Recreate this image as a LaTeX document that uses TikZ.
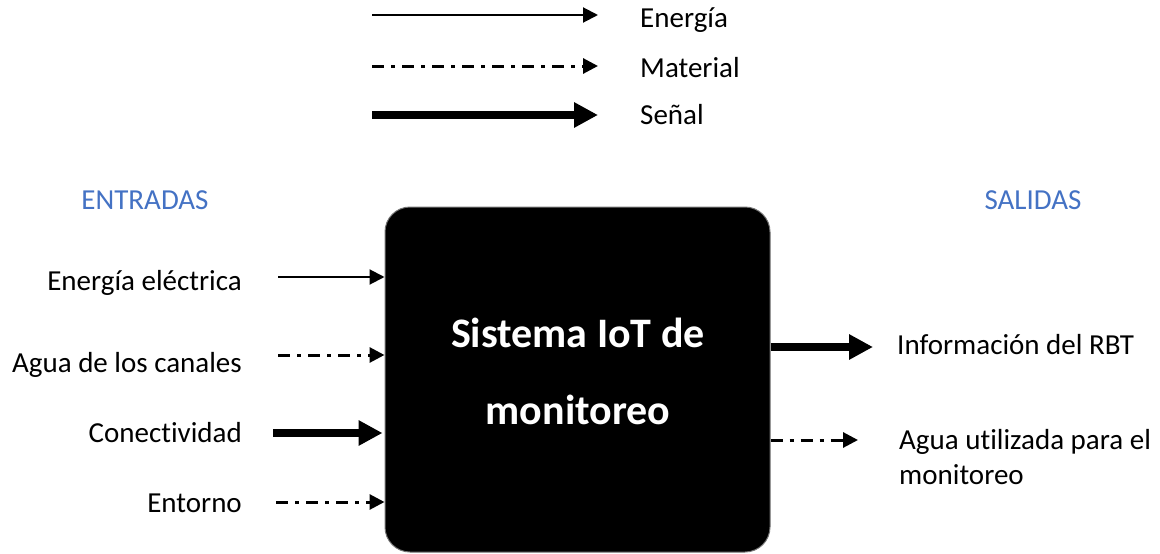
\documentclass[tikz,border=0pt]{standalone}
\usepackage{fontspec}
\setmainfont{Carlito}[Ligatures={NoCommon,NoRequired}]
\usepackage{xcolor}
\usetikzlibrary{arrows.meta}
\definecolor{titleblue}{RGB}{68,114,196}

\begin{document}
\begin{tikzpicture}[x=1pt,y=-1pt,>=latex,
		every node/.style={inner sep=0pt,font=\fontsize{29}{35}\selectfont},
		energia/.style={line width=2pt,-{Triangle[length=15pt,width=15pt]}},
		material/.style={line width=3pt,dash pattern=on 12pt off 7pt on 4pt off 7pt,-{Triangle[length=15pt,width=15pt]}},
		senal/.style={line width=8pt,-{Triangle[length=24pt,width=24pt]}}]
		\useasboundingbox (0,0) rectangle (1160,554);

		%Legend
		\coordinate (l1) at (372,15);
		\coordinate (l1e) at (598,15);
		\draw [energia] (l1) -- (l1e);
		\node [right] at (640,20) (k1) {Energía};
		\coordinate (l2) at (372,66);
		\coordinate (l2e) at (598,66);
		\draw [material] (l2) -- (l2e);
		\node [right] at (640,68) (k2) {Material};
		\coordinate (l3) at (372,115);
		\coordinate (l3e) at (598,115);
		\draw [senal] (l3) -- (l3e);
		\node [right] at (640,115) (k3) {Señal};

		% Headings
		\node at (145,200) (ent) [text=titleblue] {ENTRADAS};
		\node at (1033,200) (sal) [text=titleblue] {SALIDAS};

		% System block
		\node at (577.5,379.5) (sys) [rectangle,rounded corners=25pt,fill=black,draw=black!55,line width=1pt,minimum width=385pt,minimum height=345pt] {};
		\node at (578,371) (tit) [align=center,text=white,font=\fontsize{42}{77}\selectfont\bfseries] {Sistema IoT de\\monitoreo};

		% Inputs
		\node [left] at (242,283) (in1) {Energía eléctrica};
		\coordinate (s1) at (278,277);
		\draw [energia] (s1) -- (s1 -| sys.west);
		\node [left] at (242,365) (in2) {Agua de los canales};
		\coordinate (s2) at (278,355);
		\draw [material] (s2) -- (s2 -| sys.west);
		\node [left] at (242,433) (in3) {Conectividad};
		\coordinate (s3) at (273,433);
		\draw [senal] (s3) -- ([xshift=-2pt]s3 -| sys.west);
		\node [left] at (242,503) (in4) {Entorno};
		\coordinate (s4) at (276,502);
		\draw [material] (s4) -- (s4 -| sys.west);

		% Outputs
		\node [right] at (897,345) (out1) {Información del RBT};
		\coordinate (o1) at (873,347);
		\draw [senal] (sys.east |- o1) -- (o1);
		\node [right,align=left] at (899,457) (out2) {Agua utilizada para el\\monitoreo};
		\coordinate (o2) at (858,440);
		\draw [material] (sys.east |- o2) -- (o2);

	\end{tikzpicture}
\end{document}
